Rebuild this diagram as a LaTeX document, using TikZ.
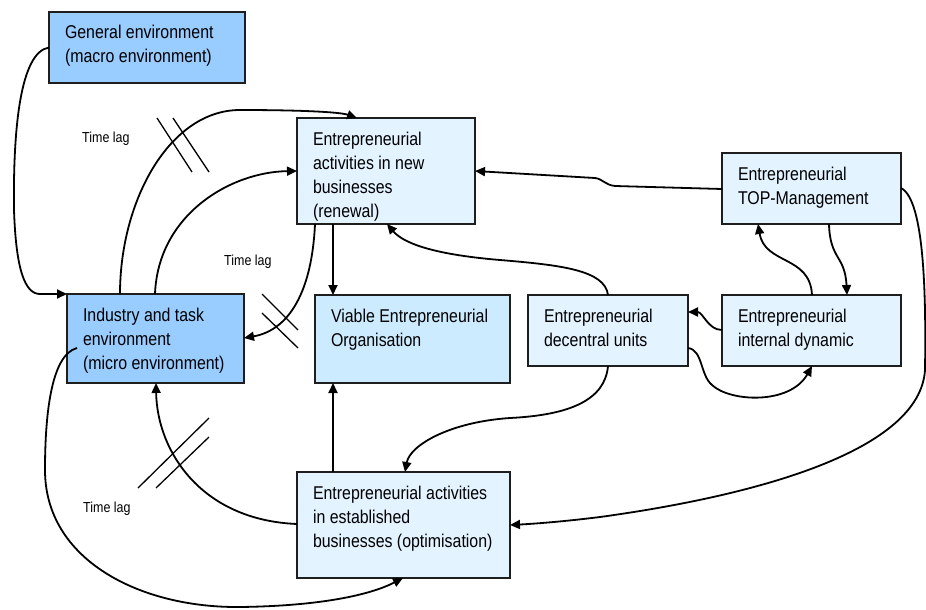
\documentclass[tikz,border=0pt]{standalone}
\usepackage{fontspec}
\setmainfont{Liberation Sans}[FakeStretch=0.86]
\usetikzlibrary{arrows.meta,calc}
\definecolor{darkfill}{RGB}{153,204,255}
\definecolor{midfill}{RGB}{204,235,255}
\definecolor{lightfill}{RGB}{227,243,255}
\definecolor{edge}{RGB}{30,30,30}
\newcommand{\bx}[3]{\parbox[c][#2][t]{#1}{\raggedright\rule{0pt}{27pt}#3}}
\tikzset{
  boxbase/.style={draw=edge, line width=1.3pt, inner xsep=16pt, inner ysep=0pt, outer sep=0pt, anchor=north west, font=\fontsize{18.5pt}{24pt}\selectfont},
  darkbox/.style={boxbase, fill=darkfill},
  midbox/.style={boxbase, fill=midfill},
  lightbox/.style={boxbase, fill=lightfill},
  conn/.style={line width=1.8pt, -{Triangle[length=10pt,width=9pt]}},
  lagmark/.style={line width=1.3pt},
  lagtext/.style={anchor=base west, inner sep=0pt, font=\fontsize{14.5pt}{17pt}\selectfont}
}
\begin{document}
\begin{tikzpicture}[x=1pt,y=-1pt]
\useasboundingbox (0,0) rectangle (926,610);
% boxes
\node[darkbox] (gen) at (49,12) {\bx{164pt}{71pt}{General environment\\(macro environment)}};
\node[darkbox] (ind) at (67,294) {\bx{145pt}{89pt}{Industry and task\\environment\\(micro environment)}};
\node[lightbox] (new) at (297,118) {\bx{146pt}{106pt}{Entrepreneurial\\activities in new\\businesses\\(renewal)}};
\node[midbox] (via) at (315,295) {\bx{163pt}{88pt}{Viable Entrepreneurial\\Organisation}};
\node[lightbox] (dec) at (528,295) {\bx{128pt}{71pt}{Entrepreneurial\\decentral units}};
\node[lightbox] (top) at (722,153) {\bx{147pt}{71pt}{Entrepreneurial\\TOP-Management}};
\node[lightbox] (int) at (722,295) {\bx{147pt}{71pt}{Entrepreneurial\\internal dynamic}};
\node[lightbox] (est) at (297,472) {\bx{181pt}{106pt}{Entrepreneurial activities\\in established\\businesses (optimisation)}};
% time lag labels
\node[lagtext] (tl1) at (82,142) {Time lag};
\node[lagtext] (tl2) at (224,265) {Time lag};
\node[lagtext] (tl3) at (83,512) {Time lag};
% connectors
\draw[conn] (gen.west) .. controls (20,52) and (13,130) .. (14,210) .. controls (16,270) and (25,294) .. (40,294) -- (ind.north west);
\draw[conn] ($(ind.north west)+(53,0)$) .. controls (120,200) and (170,110) .. (240,110) .. controls (300,110) and (340,112) .. ($(new.north west)+(60,0)$);
\draw[conn] ($(ind.north west)+(88,0)$) .. controls (158,215) and (230,172) .. ($(new.north west)+(0,53)$);
\draw[conn] ($(new.south west)+(18,0)$) .. controls (312,290) and (290,330) .. ($(ind.north east)+(0,44)$);
\draw[conn] ($(new.south west)+(36,0)$) -- ($(via.north west)+(18,0)$);
\draw[conn] ($(dec.north west)+(80,0)$) .. controls (605,270) and (560,265) .. (500,260) .. controls (440,255) and (405,245) .. ($(new.south west)+(90,0)$);
\draw[conn] ($(top.north west)+(0,36)$) -- (615,186) .. controls (605,185) and (603,179) .. (595,178) -- ($(new.north east)+(0,53)$);
\draw[conn] ($(top.south west)+(107,0)$) .. controls (830,260) and (845,255) .. ($(int.north west)+(125,0)$);
\draw[conn] ($(int.north west)+(90,0)$) .. controls (810,255) and (765,265) .. ($(top.south west)+(36,0)$);
\draw[conn] ($(int.north west)+(0,35)$) .. controls (708,330) and (703,312) .. ($(dec.north east)+(0,17)$);
\draw[conn] ($(dec.north east)+(0,53)$) .. controls (703,350) and (700,375) .. (712,385) .. controls (730,402) and (790,405) .. ($(int.south west)+(90,0)$);
\draw[conn] ($(dec.south west)+(80,0)$) .. controls (605,400) and (570,415) .. (510,418) .. controls (450,422) and (410,445) .. ($(est.north west)+(108,0)$);
\draw[conn] ($(est.north west)+(36,0)$) -- ($(via.south west)+(18,0)$);
\draw[conn] ($(est.north west)+(0,52)$) .. controls (200,520) and (157,450) .. ($(ind.south west)+(89,0)$);
\draw[conn] ($(ind.north west)+(10,54)$) .. controls (50,355) and (45,420) .. (45,470) .. controls (45,560) and (140,608) .. (240,607) .. controls (320,606) and (370,595) .. ($(est.south west)+(106,0)$);
\draw[conn] ($(top.north east)+(0,35)$) .. controls (925,200) and (926,300) .. (925,370) .. controls (920,450) and (760,495) .. (600,517) .. controls (560,522) and (530,524) .. ($(est.north east)+(0,53)$);
% time lag marks
\draw[lagmark] (157,118) -- (192,172);
\draw[lagmark] (173,118) -- (209,172);
\draw[lagmark] (262,294) -- (298,330);
\draw[lagmark] (262,313) -- (298,348);
\draw[lagmark] (138,488) -- (209,418);
\draw[lagmark] (156,488) -- (209,437);
\end{tikzpicture}
\end{document}
